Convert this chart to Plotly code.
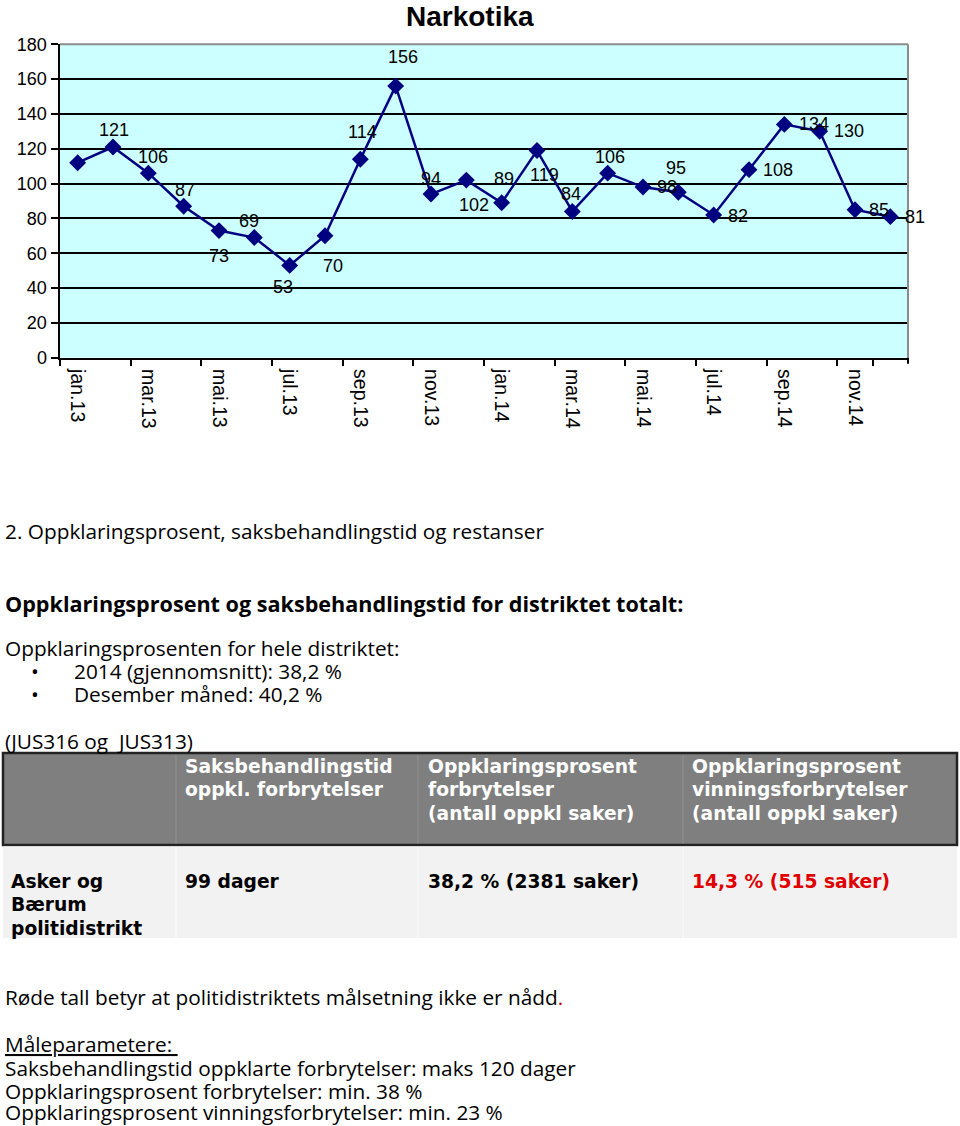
import plotly.graph_objects as go

# ---------------- data ----------------
months = ["jan.13", "feb.13", "mar.13", "apr.13", "mai.13", "jun.13", "jul.13", "aug.13",
          "sep.13", "okt.13", "nov.13", "des.13", "jan.14", "feb.14", "mar.14", "apr.14",
          "mai.14", "jun.14", "jul.14", "aug.14", "sep.14", "okt.14", "nov.14", "des.14"]
narkotika = [112, 121, 106, 87, 73, 69, 53, 70, 114, 156, 94, 102,
             89, 119, 84, 106, 98, 95, 82, 108, 134, 130, 85, 81]
label_visible = [False] + [True] * 23
y_ticks = [0, 20, 40, 60, 80, 100, 120, 140, 160, 180]
x_tick_labels = months[::2]

# label placement (pixel shifts relative to each point), style only
label_dx = [0, 1, 5, 1, 0, -5, -7, 8, 2, 7, 0, 8, 2, 7, -1, 2, 24, -2, 24, 29, 30, 29, 24, 25]
label_dy = [0, 17, 16, 16, -25, 17, -22, -30, 27, 29, 15, -25, 24, -24, 17, 16, 0, 24, -1, 0, 0, 0, 0, 0]

# text block
table_header = ["", "Saksbehandlingstid<br>oppkl. forbrytelser",
                "Oppklaringsprosent<br>forbrytelser<br>(antall oppkl saker)",
                "Oppklaringsprosent<br>vinningsforbrytelser<br>(antall oppkl saker)"]
table_row = ["Asker og<br>Bærum<br>politidistrikt", "99 dager", "38,2 % (2381 saker)", "14,3 % (515 saker)"]
table_row_colors = ["#000000", "#000000", "#000000", "#E00000"]

W, H = 960, 1126


def px(x):
    return x / W


def py(y):
    return 1 - y / H


NAVY = "#000080"
CHART_FONT = "Liberation Sans, Arial, sans-serif"
DOC_FONT = "Open Sans, Noto Sans, Arial, sans-serif"
TABLE_FONT = "DejaVu Sans, Verdana, sans-serif"

fig = go.Figure()
fig.add_trace(go.Scatter(
    x=months, y=narkotika, mode="lines+markers",
    line=dict(color=NAVY, width=2.5),
    marker=dict(symbol="diamond", size=13, color=NAVY),
    hoverinfo="skip", showlegend=False,
))

annotations = []
for m, v, show, dx, dy in zip(months, narkotika, label_visible, label_dx, label_dy):
    if not show:
        continue
    annotations.append(dict(x=m, y=v, xref="x", yref="y", text=str(v), showarrow=False,
                            xshift=dx, yshift=dy, xanchor="center", yanchor="middle",
                            font=dict(family=CHART_FONT, size=18, color="black")))

# chart title
annotations.append(dict(x=px(470), y=py(16), xref="paper", yref="paper", text="<b>Narkotika</b>",
                        showarrow=False, xanchor="center", yanchor="middle",
                        font=dict(family=CHART_FONT, size=28, color="black")))


def doc_text(x, y, text, size=20.8, color="black", family=DOC_FONT):
    annotations.append(dict(x=px(x), y=py(y), xref="paper", yref="paper", text=text,
                            showarrow=False, xanchor="left", yanchor="middle", align="left",
                            borderpad=0,
                            font=dict(family=family, size=size, color=color)))


doc_text(4, 531, "2. Oppklaringsprosent, saksbehandlingstid og restanser")
doc_text(4, 603, "<b>Oppklaringsprosent og saksbehandlingstid for distriktet totalt:</b>", size=21.6)
doc_text(4, 648, "Oppklaringsprosenten for hele distriktet:")
doc_text(30, 671, "•")
doc_text(73, 671, "2014 (gjennomsnitt): 38,2 %")
doc_text(30, 694, "•")
doc_text(73, 694, "Desember måned: 40,2 %")
doc_text(4, 741, "(JUS316 og  JUS313)")

# table
col_x = [3, 176, 418, 683, 957]
text_x = [10, 184, 427, 691]
shapes = [
    dict(type="rect", xref="paper", yref="paper", x0=px(3), x1=px(957), y0=py(753), y1=py(845),
         fillcolor="#7F7F7F", line=dict(color="#222222", width=2.5), layer="below"),
    dict(type="rect", xref="paper", yref="paper", x0=px(3), x1=px(957), y0=py(846.5), y1=py(938),
         fillcolor="#F2F2F2", line=dict(width=0), layer="below"),
]
for cx in col_x[1:-1]:
    shapes.append(dict(type="line", xref="paper", yref="paper", x0=px(cx), x1=px(cx), y0=py(755), y1=py(843.5),
                       line=dict(color="#8E8E8E", width=1.2)))
    shapes.append(dict(type="line", xref="paper", yref="paper", x0=px(cx), x1=px(cx), y0=py(847), y1=py(938),
                       line=dict(color="#FAFAFA", width=1.2)))

for i, t in enumerate(table_header):
    for j, line in enumerate([s for s in t.split("<br>") if s]):
        doc_text(text_x[i], 766 + j * 23.5, "<b>" + line + "</b>", size=18.7, color="white", family=TABLE_FONT)
for i, t in enumerate(table_row):
    for j, line in enumerate(t.split("<br>")):
        doc_text(text_x[i], 881 + j * 23.5, "<b>" + line + "</b>", size=18.7, color=table_row_colors[i],
                 family=TABLE_FONT)

doc_text(4, 997, 'Røde tall betyr at politidistriktets målsetning ikke er nådd<span style="color:#C00000">.</span>')
doc_text(4, 1044, "<u>Måleparametere: </u>")
doc_text(4, 1068, "Saksbehandlingstid oppklarte forbrytelser: maks 120 dager")
doc_text(4, 1091, "Oppklaringsprosent forbrytelser: min. 38 %")
doc_text(4, 1112, "Oppklaringsprosent vinningsforbrytelser: min. 23 %")

# grey top/right border of plot area
x0d, x1d = px(60), px(908)
y0d, y1d = py(357.7), py(44.3)
shapes.append(dict(type="line", xref="paper", yref="paper", x0=x0d, x1=x1d, y0=y1d, y1=y1d,
                   line=dict(color="#8C8C8C", width=2), layer="above"))
shapes.append(dict(type="line", xref="paper", yref="paper", x0=x1d, x1=x1d, y0=y0d, y1=y1d,
                   line=dict(color="#8C8C8C", width=2), layer="above"))
# closing tick at the right end of the category axis
shapes.append(dict(type="line", xref="paper", yref="paper", x0=x1d, x1=x1d, y0=y0d, y1=py(363.7),
                   line=dict(color="black", width=2), layer="above"))

fig.update_layout(
    width=W, height=H,
    margin=dict(l=0, r=0, t=0, b=0),
    paper_bgcolor="white",
    plot_bgcolor="#CCFFFF",
    annotations=annotations,
    shapes=shapes,
    showlegend=False,
    xaxis=dict(
        domain=[x0d, x1d], type="category", categoryorder="array", categoryarray=months,
        range=[-0.5, len(months) - 0.5],
        tickmode="array", tickvals=x_tick_labels, ticktext=x_tick_labels,
        tickson="boundaries", ticks="outside", ticklen=6, tickwidth=2, tickcolor="black",
        ticklabelstandoff=5,
        tickangle=90, showgrid=False, showline=True, linecolor="black", linewidth=2.5,
        tickfont=dict(family=CHART_FONT, size=19.5, color="black"), automargin=False, fixedrange=True,
    ),
    yaxis=dict(
        domain=[y0d, y1d], range=[0, 180], tickmode="array", tickvals=y_ticks,
        ticks="outside", ticklen=7, tickwidth=2, tickcolor="black",
        showgrid=True, gridcolor="black", gridwidth=2, zeroline=False,
        showline=True, linecolor="black", linewidth=2.5,
        tickfont=dict(family=CHART_FONT, size=18, color="black"), automargin=False, fixedrange=True,
    ),
)

fig.write_html("out.html", config={"displayModeBar": False, "staticPlot": True},
               post_script="document.body.style.margin='0';document.body.style.overflow='hidden';")
